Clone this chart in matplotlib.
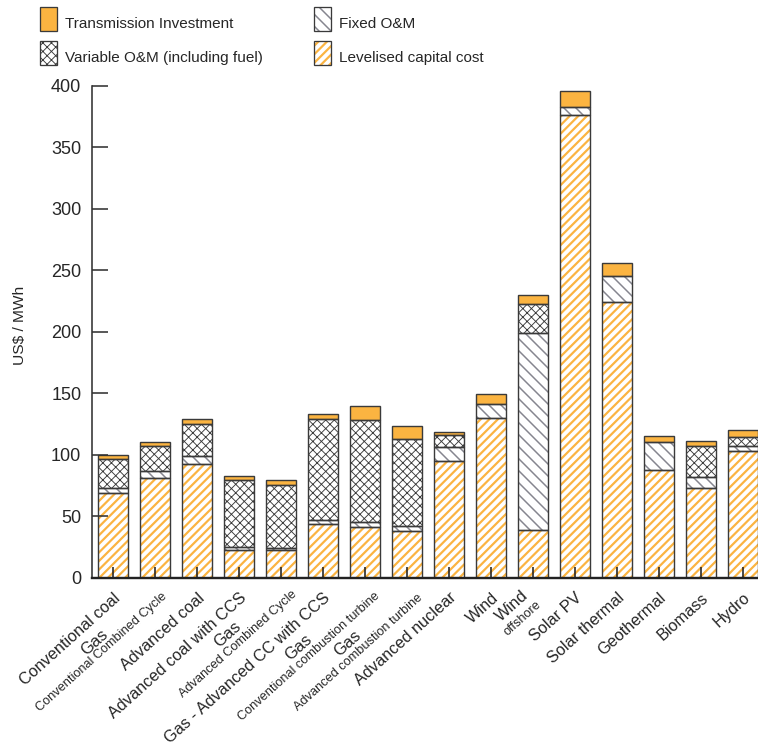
import numpy as np
import matplotlib
matplotlib.use("Agg")
import matplotlib.pyplot as plt
from matplotlib.patches import Rectangle
from matplotlib import font_manager

# ---------------- data ----------------
categories = [
    "Conventional coal", "Gas\nConventional Combined Cycle", "Advanced coal",
    "Advanced coal with CCS", "Gas\nAdvanced Combined Cycle",
    "Gas - Advanced CC with CCS", "Gas\nConventional combustion turbine",
    "Gas\nAdvanced combustion turbine", "Advanced nuclear", "Wind",
    "Wind\noffshore", "Solar PV", "Solar thermal", "Geothermal", "Biomass", "Hydro",
]
levelised_capital = [69.2, 80.8, 92.2, 22.6, 22.3, 43.6, 41.3, 38.3, 94.9, 130.1,
                     39.1, 376.6, 224.0, 87.9, 73.0, 103.3]
fixed_om = [3.5, 6.0, 6.5, 2.2, 1.6, 3.1, 4.2, 4.0, 11.2, 10.9,
            159.7, 6.3, 21.6, 22.7, 8.9, 3.6]
variable_om = [24.1, 20.1, 26.5, 54.7, 51.5, 82.6, 83.0, 70.3, 9.7, 0.0,
               23.9, 0.0, 0.0, 0.0, 25.5, 7.3]
transmission = [3.3, 3.4, 3.9, 3.5, 3.8, 3.9, 10.9, 10.6, 3.0, 8.2,
                7.2, 13.0, 10.7, 4.9, 3.5, 5.7]
yticks = [0, 50, 100, 150, 200, 250, 300, 350, 400]
ylabel = "US$ / MWh"
legend_labels = ["Transmission Investment", "Variable O&M (including fuel)",
                 "Fixed O&M", "Levelised capital cost"]

# ---------------- styling ----------------
DPI = 180
W, H = 758, 749


def P(px):
    return px * 72.0 / DPI


ORANGE = "#FBB441"
GREY = "#85858f"
DARK = "#3a3a3a"
TXT = "#262626"

HATCH_CAP = "/" * 7
HATCH_FIX = "\\" * 5
HATCH_VAR = "x" * 7

MAIN = ["Liberation Sans", "DejaVu Sans"]
plt.rcParams["font.family"] = MAIN

avail = {f.name for f in font_manager.fontManager.ttflist}
if "Liberation Sans Narrow" in avail:
    LEG_FONT = dict(family=["Liberation Sans Narrow"] + MAIN, fontsize=P(17.8))
else:
    LEG_FONT = dict(family=MAIN, fontsize=P(15.3))

fig = plt.figure(figsize=(W / DPI, H / DPI), dpi=DPI)
fig.patch.set_facecolor("white")
ax_l, ax_r, ax_t, ax_b = 92.3, 758.0, 86.0, 577.7
ax = fig.add_axes([ax_l / W, 1 - ax_b / H, (ax_r - ax_l) / W, (ax_b - ax_t) / H])

x = np.arange(len(categories))
width = 0.714

layers = [
    (levelised_capital, dict(color="white", edgecolor=ORANGE, hatch=HATCH_CAP), 2.2),
    (fixed_om, dict(color="white", edgecolor=GREY, hatch=HATCH_FIX), 1.5),
    (variable_om, dict(color="white", edgecolor=DARK, hatch=HATCH_VAR), 0.9),
    (transmission, dict(color=ORANGE, edgecolor=ORANGE, hatch=None), 1.0),
]

bottom = np.zeros(len(x))
for vals, style, hlw in layers:
    vals = np.asarray(vals, dtype=float)
    m = vals > 0
    with plt.rc_context({"hatch.linewidth": P(hlw)}):
        bars = ax.bar(x[m], vals[m], width=width, bottom=bottom[m], linewidth=0, zorder=1, **style)
    for b in bars:
        if hasattr(b, "set_hatch_linewidth"):
            b.set_hatch_linewidth(P(hlw))
    ax.bar(x[m], vals[m], width=width, bottom=bottom[m], fill=False,
           edgecolor=DARK, linewidth=P(1.4), zorder=1.5)
    bottom = bottom + vals

ax.set_xlim(-0.5, (758 - 113.3) / 42.0)
ax.set_ylim(0, 400)
ax.set_yticks(yticks)
ax.set_yticklabels([str(t) for t in yticks])
ax.set_xticks(x)
ax.set_xticklabels([""] * len(x))
ax.tick_params(axis="y", direction="in", length=P(16), width=P(1.6), color="#333333",
               pad=P(11), labelsize=P(18), labelcolor=TXT)
ax.tick_params(axis="x", direction="in", length=P(11), width=P(1.6), color="#222222")
for s in ("top", "right"):
    ax.spines[s].set_visible(False)
ax.spines["left"].set_linewidth(P(1.6))
ax.spines["left"].set_color("#333333")
ax.spines["bottom"].set_linewidth(P(2.4))
ax.spines["bottom"].set_color("#222222")

ax.set_ylabel(ylabel, fontsize=P(15.5), color=TXT)
ax.yaxis.set_label_coords((27 - ax_l) / (ax_r - ax_l), (ax_b - 325) / (ax_b - ax_t))

# ---------------- category labels ----------------
tr = ax.get_xaxis_transform()
ROT = 42.0
CS, SN = np.cos(np.radians(ROT)), np.sin(np.radians(ROT))


def place(i, u, v, s, size, ha, va):
    dx = u * CS + v * SN
    dy = -u * SN + v * CS
    ax.annotate(s, xy=(x[i], 0), xycoords=tr, xytext=(P(dx), -P(dy)),
                textcoords="offset points", rotation=ROT, rotation_mode="anchor",
                ha=ha, va=va, fontsize=P(size), color=TXT, annotation_clip=False)


two_line_pos = {
    1: ((-88.8, 7.1), (-89.9, 19.9)),
    4: ((-78.5, 6.1), (-76.5, 19.9)),
    6: ((-96.2, 7.2), (-94.8, 20.6)),
    7: ((-88.5, 8.2), (-86.0, 22.8)),
    10: ((-34.7, 6.4), (-35.6, 23.1)),
}
for i, lab in enumerate(categories):
    if "\n" in lab:
        main, sub = lab.split("\n")
        (u1, v1), (u2, v2) = two_line_pos[i]
        place(i, u1, v1, main, 16.5, "center", "center")
        place(i, u2, v2, sub, 12.8, "center", "center")
    else:
        place(i, -8.5, 21.0, lab, 16.3, "right", "baseline")

# ---------------- legend ----------------
leg_styles = [
    (dict(facecolor=ORANGE, edgecolor=ORANGE, hatch=None), 1.0),
    (dict(facecolor="white", edgecolor=DARK, hatch=HATCH_VAR), 0.9),
    (dict(facecolor="white", edgecolor=GREY, hatch=HATCH_FIX), 1.5),
    (dict(facecolor="white", edgecolor=ORANGE, hatch=HATCH_CAP), 2.2),
]
leg_pos = [(40, 7, 65, 28.3), (40, 41, 65, 61.7), (314, 7, 339, 28.3), (314, 41, 339, 61.7)]
for (st, hlw), (px, py, tx, ty), lab in zip(leg_styles, leg_pos, legend_labels):
    with plt.rc_context({"hatch.linewidth": P(hlw)}):
        r = Rectangle((px / W, 1 - (py + 24) / H), 17 / W, 24 / H, transform=fig.transFigure,
                      linewidth=0, **st)
    if hasattr(r, "set_hatch_linewidth"):
        r.set_hatch_linewidth(P(hlw))
    fig.add_artist(r)
    fig.add_artist(Rectangle((px / W, 1 - (py + 24) / H), 17 / W, 24 / H,
                             transform=fig.transFigure, fill=False,
                             edgecolor=DARK, linewidth=P(1.3)))
    fig.text(tx / W, 1 - ty / H, lab, color=TXT, ha="left", va="baseline", **LEG_FONT)

fig.savefig("out.png", dpi=DPI, facecolor="white")
